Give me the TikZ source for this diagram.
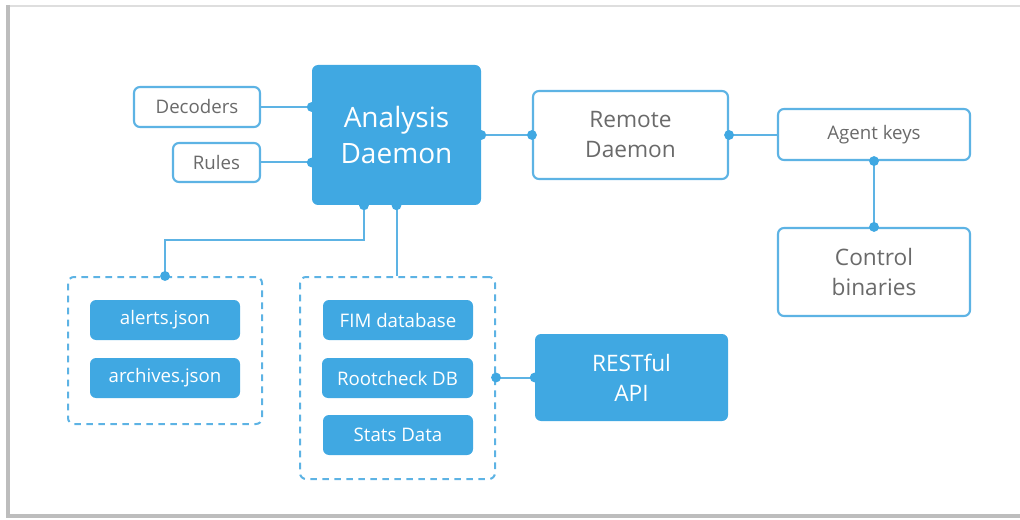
\documentclass[tikz,border=0pt]{standalone}
\usepackage{fontspec}
\setmainfont{Open Sans}
\definecolor{wblue}{HTML}{40A8E2}
\definecolor{wline}{HTML}{5DB3E4}
\definecolor{wtext}{HTML}{6A6A6A}
\definecolor{frameg}{HTML}{BDBDBD}
\tikzset{
  base/.style={rounded corners=4.5pt, align=center, inner sep=0pt},
  solidbox/.style={base, fill=wblue, text=white},
  openbox/.style={base, draw=wline, line width=1.6pt, fill=white, text=wtext},
  groupbox/.style={base, draw=wline, line width=1.5pt, dash pattern=on 5pt off 4pt},
  conn/.style={draw=wline, line width=1.5pt},
  dot/.style={fill=wblue},
  big/.style={font=\fontsize{21}{27}\selectfont},
  mid/.style={font=\fontsize{17}{22.5}\selectfont},
  small/.style={font=\fontsize{14}{17}\selectfont},
}
\begin{document}
\begin{tikzpicture}[x=0.75pt,y=-0.75pt]
\useasboundingbox (0,0) rectangle (1020,520);
% card frame
\draw[frameg!50, line width=1pt] (8,6) -- (1020,6);
\draw[frameg, line width=2.5pt] (8,5) -- (8,516) -- (1020,516);

% nodes
\node[solidbox, big, minimum width=126.75pt, minimum height=105pt] (daemon) at (396.5,135) {Analysis\\Daemon};
\node[openbox, small, minimum width=94.5pt, minimum height=30pt] (dec) at (197,107) {Decoders};
\node[openbox, small, minimum width=65.25pt, minimum height=29.25pt] (rules) at (216.5,162.5) {Rules};
\node[openbox, mid, minimum width=146.25pt, minimum height=66pt] (remote) at (630.5,135) {Remote\\Daemon};
\node[openbox, small, minimum width=144pt, minimum height=38.25pt] (keys) at (874,134.5) {Agent keys};
\node[openbox, mid, minimum width=144pt, minimum height=66pt] (ctrl) at (874,272) {Control\\binaries};

\node[groupbox, minimum width=145.5pt, minimum height=110.25pt] (lg) at (165,350.5) {};
\node[groupbox, minimum width=146.25pt, minimum height=151.5pt] (rg) at (397.5,378) {};

\node[solidbox, small, minimum width=112.5pt, minimum height=30pt] (alerts) at (165,320) {alerts.json};
\node[solidbox, small, minimum width=112.5pt, minimum height=30pt] (arch) at (165,378) {archives.json};
\node[solidbox, small, minimum width=112.5pt, minimum height=30pt] (fim) at (398,320) {FIM database};
\node[solidbox, small, minimum width=113.25pt, minimum height=30pt] (root) at (397.5,378) {Rootcheck DB};
\node[solidbox, small, minimum width=112.5pt, minimum height=30pt] (stats) at (398,435) {Stats Data};
\node[solidbox, mid, minimum width=144.75pt, minimum height=65.25pt] (api) at (631.5,377.5) {RESTful\\API};

% connectors
\draw[conn] (dec.east) -- (dec.east -| daemon.west) coordinate (d1);
\draw[conn] (rules.east) -- (rules.east -| daemon.west) coordinate (d2);
\draw[conn] (daemon.east |- remote.west) coordinate (d3) -- (remote.west);
\draw[conn] (remote.east) -- (remote.east -| keys.west);
\draw[conn] (keys.south) -- (ctrl.north);
\draw[conn] ([xshift=-24.4pt]daemon.south) coordinate (d4) -- ++(0,35) -| (lg.north);
\draw[conn] (daemon.south) coordinate (d5) -- (daemon.south |- rg.north);
\draw[conn] (rg.east |- api.west) coordinate (d6) -- (api.west);

% dots
\foreach \p in {d1,d2,d3,d4,d5,d6,remote.west,remote.east,keys.south,ctrl.north,lg.north,api.west}
  \fill[dot] (\p) circle[radius=3.7pt];
\end{tikzpicture}
\end{document}
